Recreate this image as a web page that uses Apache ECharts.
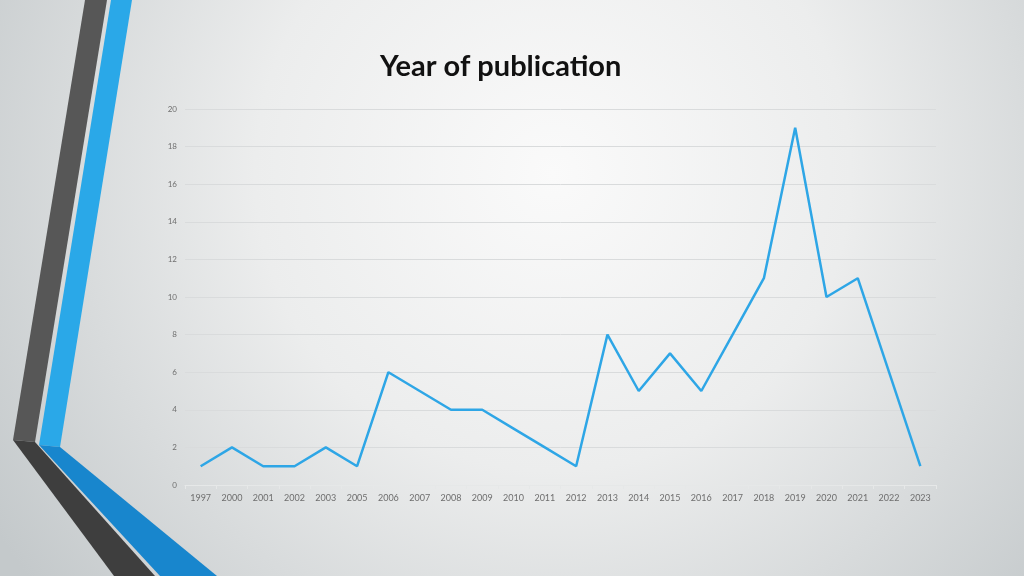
<!DOCTYPE html>
<html>
<head>
<meta charset="utf-8">
<script src="https://cdn.jsdelivr.net/npm/echarts@6/dist/echarts.min.js"></script>
<style>
html,body{margin:0;padding:0;width:1024px;height:576px;overflow:hidden;}
#c{width:1024px;height:576px;}
</style>
</head>
<body>
<div id="c"></div>
<script>
const titleText = 'Year of publication';
const years = ['1997','2000','2001','2002','2003','2005','2006','2007','2008','2009','2010','2011','2012','2013','2014','2015','2016','2017','2018','2019','2020','2021','2022','2023'];
const counts = [1,2,1,1,2,1,6,5,4,4,3,2,1,8,5,7,5,8,11,19,10,11,6,1];
const yTicks = [0,2,4,6,8,10,12,14,16,18,20];

const chart = echarts.init(document.getElementById('c'));
chart.setOption({
  backgroundColor: 'transparent',
  animation: false,
  title: {
    text: titleText,
    left: 375,
    top: 47,
    textStyle: {fontFamily: 'Lato', fontWeight: 'bold', fontSize: 29, color: '#111'}
  },
  graphic: [
    {type: 'rect', z: -10, silent: true, shape: {x: 0, y: 0, width: 1024, height: 576},
     style: {fill: {type: 'radial', x: 0.54, y: 0.3, r: 1.15,
       colorStops: [{offset: 0, color: '#fafafa'}, {offset: 0.45, color: '#eceded'}, {offset: 1, color: '#c4c9cb'}]}}},
    {type: 'polygon', z: -5, silent: true, shape: {points: [[85,0],[107,0],[35,442],[13,440]]}, style: {fill: '#575757'}},
    {type: 'polygon', z: -5, silent: true, shape: {points: [[111,0],[132,0],[60,447],[39,445]]}, style: {fill: '#2aa8e8'}},
    {type: 'polygon', z: -5, silent: true, shape: {points: [[13,440],[35,442],[155,576],[114,576]]}, style: {fill: '#3e3e3e'}},
    {type: 'polygon', z: -5, silent: true, shape: {points: [[39,445],[60,447],[217,576],[160,576]]}, style: {fill: '#1886cd'}}
  ],
  grid: {left: 185, right: 88, top: 109, bottom: 91},
  xAxis: {
    type: 'category',
    data: years,
    boundaryGap: true,
    axisLine: {show: true, lineStyle: {color: '#e6e8e8', width: 1}},
    axisTick: {show: true, alignWithLabel: false, length: 4, lineStyle: {color: '#e6e8e8'}},
    axisLabel: {color: '#6e6e6e', fontSize: 9, fontFamily: 'Lato', margin: 9}
  },
  yAxis: {
    type: 'value',
    min: 0, max: 20, interval: 2,
    axisLine: {show: false},
    axisTick: {show: false},
    axisLabel: {color: '#6e6e6e', fontSize: 8, fontFamily: 'Lato', margin: 8},
    splitLine: {lineStyle: {color: '#d9dbdc', width: 1}}
  },
  series: [{
    type: 'line',
    data: counts,
    symbol: 'none',
    lineStyle: {color: '#2ea6e6', width: 2.5},
    itemStyle: {color: '#2ea6e6'}
  }]
});
</script>
</body>
</html>
